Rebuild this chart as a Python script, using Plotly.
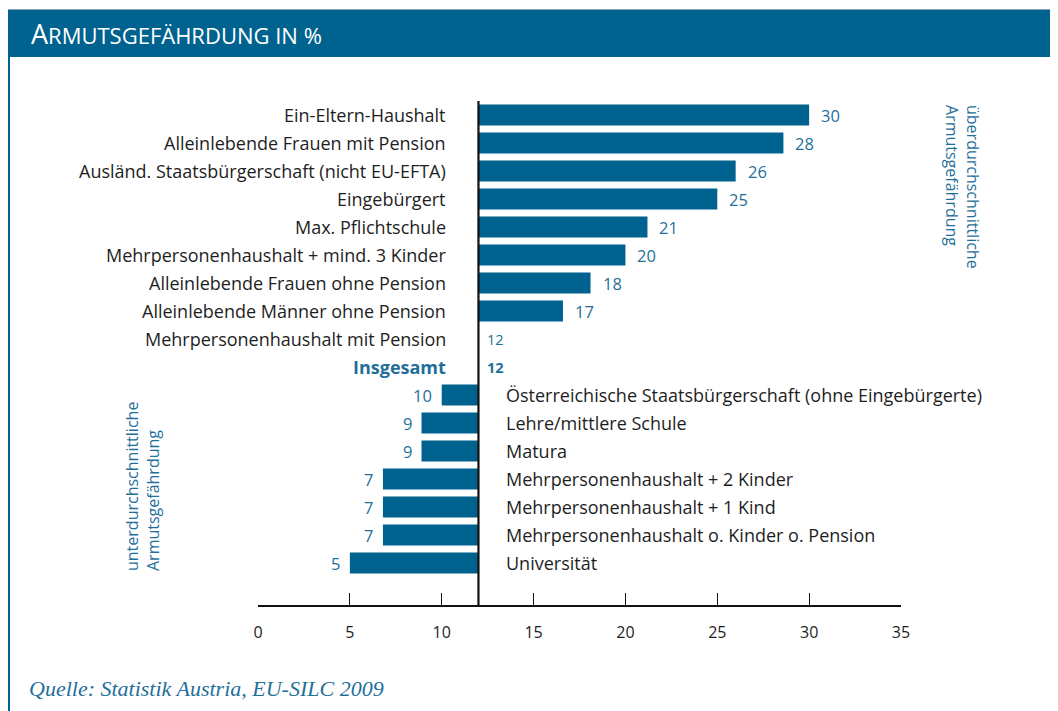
import plotly.graph_objects as go

categories = [
    "Ein-Eltern-Haushalt",
    "Alleinlebende Frauen mit Pension",
    "Ausländ. Staatsbürgerschaft (nicht EU-EFTA)",
    "Eingebürgert",
    "Max. Pflichtschule",
    "Mehrpersonenhaushalt + mind. 3 Kinder",
    "Alleinlebende Frauen ohne Pension",
    "Alleinlebende Männer ohne Pension",
    "Mehrpersonenhaushalt mit Pension",
    "Insgesamt",
    "Österreichische Staatsbürgerschaft (ohne Eingebürgerte)",
    "Lehre/mittlere Schule",
    "Matura",
    "Mehrpersonenhaushalt + 2 Kinder",
    "Mehrpersonenhaushalt + 1 Kind",
    "Mehrpersonenhaushalt o. Kinder o. Pension",
    "Universität",
]
values = [30, 28.6, 26, 25, 21.2, 20, 18.1, 16.6, 12, 12, 10, 8.9, 8.9, 6.8, 6.8, 6.8, 5]
value_labels = ["30", "28", "26", "25", "21", "20", "18", "17", "12", "12",
                "10", "9", "9", "7", "7", "7", "5"]
average = 12
tick_values = [0, 5, 10, 15, 20, 25, 30, 35]
tick_labels = ["0", "5", "10", "15", "20", "25", "30", "35"]

BLUE = "#00628e"
TXT_BLUE = "#1f6f9a"
DARK = "#1e1e1e"
FONT = "Open Sans"

# the page places the figure 8px from the top-left corner of the window
OFF = 8
W, H = 1058 - OFF, 711 - OFF
L, R, T, B = 258 - OFF, 901 - OFF, 101 - OFF, 605 - OFF


def px(x):
    return (x - OFF - L) / (R - L)


def py(y):
    return (B - (y - OFF)) / (B - T)


rows = list(range(len(categories)))

fig = go.Figure()
fig.add_trace(go.Bar(
    y=rows,
    x=[v - average for v in values],
    base=[average] * len(values),
    orientation="h",
    width=0.75,
    marker=dict(color=BLUE, line=dict(width=0)),
    hoverinfo="skip",
))

annotations = []
for i, (cat, v, lab) in enumerate(zip(categories, values, value_labels)):
    above = v >= average
    is_total = cat == "Insgesamt"
    annotations.append(dict(
        x=average, y=i, xref="x", yref="y",
        text=f"<b>{cat}</b>" if is_total else cat,
        xanchor="right" if above else "left",
        xshift=-30 if above else 26,
        showarrow=False,
        font=dict(family=FONT, size=18, color=TXT_BLUE if is_total else DARK),
    ))
    annotations.append(dict(
        x=v, y=i, xref="x", yref="y",
        text=f"<b>{lab}</b>" if is_total else lab,
        xanchor="left" if above else "right",
        xshift=(7 if v == average else 10) if above else -8,
        showarrow=False,
        font=dict(family=FONT, size=16.5 if v != average else 14.5, color=TXT_BLUE),
    ))

# header title (small caps)
annotations.append(dict(
    x=px(29), y=py(33), xref="paper", yref="paper",
    xanchor="left", yanchor="middle", showarrow=False,
    text="<span style='font-size:27px'>A</span>RMUTSGEFÄHRDUNG IN %",
    font=dict(family=FONT, size=22, color="white"),
))
# side notes
annotations.append(dict(
    x=px(962), y=py(187), xref="paper", yref="paper",
    xanchor="center", yanchor="middle", showarrow=False, textangle=90,
    align="left",
    text="überdurchschnittliche<br>Armutsgefährdung",
    font=dict(family=FONT, size=16, color=TXT_BLUE),
))
annotations.append(dict(
    x=px(142), y=py(487), xref="paper", yref="paper",
    xanchor="center", yanchor="middle", showarrow=False, textangle=-90,
    align="left",
    text="unterdurchschnittliche<br>Armutsgefährdung",
    font=dict(family=FONT, size=16, color=TXT_BLUE),
))
# source
annotations.append(dict(
    x=px(27), y=py(688), xref="paper", yref="paper",
    xanchor="left", yanchor="middle", showarrow=False,
    text="<i>Quelle: Statistik Austria, EU-SILC 2009</i>",
    font=dict(family="Liberation Serif", size=22, color=TXT_BLUE),
))

shapes = [
    dict(type="rect", xref="paper", yref="paper",
         x0=px(8), x1=px(1060), y0=py(57), y1=py(9.5),
         fillcolor=BLUE, line=dict(width=0), layer="below"),
    dict(type="line", xref="paper", yref="paper",
         x0=px(8), x1=px(1060), y0=py(9.5), y1=py(9.5),
         line=dict(color="#8aa9b8", width=1)),
    dict(type="line", xref="paper", yref="paper",
         x0=px(9), x1=px(9), y0=py(57), y1=py(712),
         line=dict(color=BLUE, width=2)),
    dict(type="line", xref="x", yref="paper",
         x0=average, x1=average, y0=0, y1=1,
         line=dict(color="#111111", width=2.2)),
]

fig.update_layout(
    width=W, height=H,
    margin=dict(l=L, r=W - R, t=T, b=H - B, pad=0),
    paper_bgcolor="white", plot_bgcolor="white",
    showlegend=False,
    annotations=annotations,
    shapes=shapes,
    xaxis=dict(
        range=[0, 35], tickvals=tick_values, ticktext=tick_labels,
        showgrid=False, zeroline=False,
        showline=True, linecolor="#111111", linewidth=1.5,
        ticks="inside", ticklen=12, tickwidth=1.2, tickcolor="#111111",
        tickfont=dict(family=FONT, size=16, color=DARK),
        ticklabelstandoff=12,
        fixedrange=True,
    ),
    yaxis=dict(
        range=[17.5, -0.5], showticklabels=False, showgrid=False,
        zeroline=False, showline=False, ticks="", fixedrange=True,
    ),
)

fig.write_html("out.html")
